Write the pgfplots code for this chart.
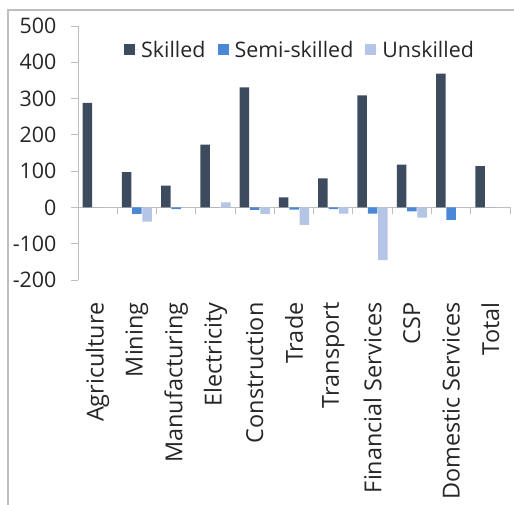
\documentclass[border=0pt]{standalone}
\usepackage{fontspec}
\setmainfont{Open Sans}
\usepackage{pgfplots}
\pgfplotsset{compat=1.18}
\definecolor{skl}{RGB}{61,75,95}
\definecolor{semi}{RGB}{74,135,212}
\definecolor{unsk}{RGB}{180,197,230}
\definecolor{axgray}{RGB}{190,190,190}
\definecolor{txt}{RGB}{38,38,38}
\begin{document}
\begin{tikzpicture}
\path[use as bounding box] (0,0) rectangle (514bp,505bp);
\draw[axgray, line width=1.2bp] (8bp,-5bp) -- (8bp,495bp) -- (530bp,495bp);
\begin{axis}[
  at={(78bp,225bp)}, anchor=south west,
  scale only axis, width=432bp, height=254bp,
  font=\fontsize{21.5}{24}\selectfont,
  /pgf/number format/assume math mode=true,
  ybar=0.8bp, bar width=9.5bp,
  ymin=-200, ymax=500, ytick={-200,-100,...,500},
  xmin=-0.5, xmax=10.5,
  xtick={0,...,10},
  xticklabels={Agriculture,Mining,Manufacturing,Electricity,Construction,Trade,Transport,Financial Services,CSP,Domestic Services,Total},
  axis y line=left, axis x line=bottom,
  x axis line style={draw=none}, y axis line style={axgray, line width=1bp, -},
  xtick style={draw=none},
  ytick style={axgray, line width=1bp},
  major tick length=7bp, tick align=outside,
  xticklabel style={yshift=-12bp, rotate=90, anchor=east, text=txt, font=\fontsize{23.5}{26}\selectfont},
  yticklabel style={text=txt, xshift=-11bp},
  legend style={at={(0.514,0.906)}, anchor=center, draw=none, fill=none, legend columns=3, font=\fontsize{21.5}{24}\selectfont, text=txt, /tikz/every even column/.append style={column sep=10bp}},
  legend image code/.code={\fill[#1] (0bp,-5.5bp) rectangle (11bp,5.5bp); \path (0bp,0bp) -- (15bp,0bp);},
  clip=false,
]
\draw[axgray, line width=1.2bp] (axis cs:-0.5,0) -- (axis cs:10.5,0);
\pgfplotsinvokeforeach{-0.5,0.5,1.5,2.5,3.5,4.5,5.5,6.5,7.5,8.5,9.5,10.5}{\draw[axgray, line width=1bp] (axis cs:#1,0) -- ([yshift=-7bp]axis cs:#1,0);}
\addplot[fill=skl, draw=none] coordinates {(0,288) (1,97) (2,60) (3,173) (4,331) (5,28) (6,80) (7,309) (8,118) (9,369) (10,114)};
\addplot[fill=semi, draw=none] coordinates {(0,0) (1,-18) (2,-5) (3,0) (4,-7) (5,-6) (6,-5) (7,-17) (8,-11) (9,-34) (10,0)};
\addplot[fill=unsk, draw=none] coordinates {(0,0) (1,-39) (2,0) (3,14) (4,-18) (5,-48) (6,-17) (7,-145) (8,-28) (9,0) (10,0)};
\legend{Skilled,Semi-skilled,Unskilled}
\end{axis}
\end{tikzpicture}
\end{document}
